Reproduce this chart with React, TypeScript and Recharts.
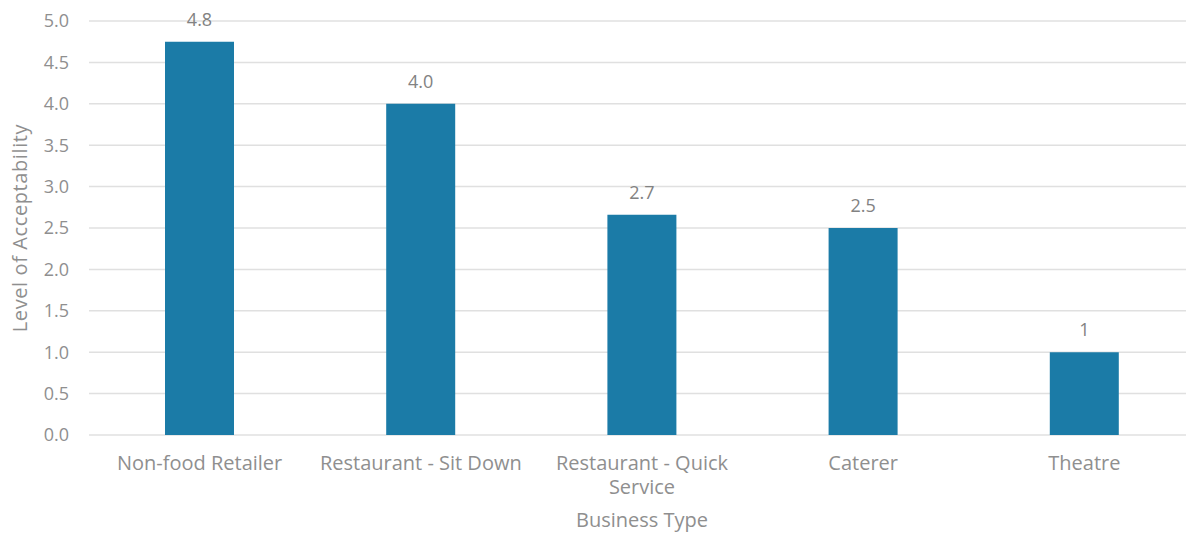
import { BarChart, Bar, XAxis, YAxis, CartesianGrid, LabelList } from 'recharts'

const businessTypes = ['Non-food Retailer', 'Restaurant - Sit Down', 'Restaurant - Quick Service', 'Caterer', 'Theatre']
const tickLines = [['Non-food Retailer'], ['Restaurant - Sit Down'], ['Restaurant - Quick', 'Service'], ['Caterer'], ['Theatre']]
const acceptability = [4.75, 4.0, 2.66, 2.5, 1.0]
const valueLabels = ['4.8', '4.0', '2.7', '2.5', '1']
const yTicks = [0, 0.5, 1.0, 1.5, 2.0, 2.5, 3.0, 3.5, 4.0, 4.5, 5.0]

const FONT = '"Open Sans", sans-serif'
const GREY = '#8f8f8f'

const rows = businessTypes.map((name, i) => ({ name, value: acceptability[i], label: valueLabels[i] }))

function CategoryTick(props: any) {
  const { x, y, payload } = props
  const lines = tickLines[businessTypes.indexOf(payload.value)] || [payload.value]
  return (
    <text x={x} y={y} textAnchor="middle" style={{ fontFamily: FONT, fontSize: 20, fill: GREY }}>
      {lines.map((l, i) => (
        <tspan key={i} x={x} dy={i === 0 ? 14 : 24}>{l}</tspan>
      ))}
    </text>
  )
}

export default function App() {
  return (
    <div style={{ position: 'fixed', left: 0, top: 0, width: 1186, height: 534, overflow: 'hidden', background: '#fff' }}>
      <BarChart width={1196} height={534} data={rows} margin={{ top: 21, right: 1, bottom: 0, left: 0 }} barSize={69}>
        <CartesianGrid vertical={false} stroke="#e0e0e0" strokeWidth={1.5} />
        <XAxis dataKey="name" height={99} axisLine={false} tickLine={false} tickSize={0} tickMargin={21}
          tick={<CategoryTick />} interval={0}
          label={{ value: 'Business Type', position: 'insideBottom', offset: 7, style: { fontFamily: FONT, fontSize: 20, fill: GREY } }} />
        <YAxis width={89} domain={[0, 5]} ticks={yTicks} axisLine={false} tickLine={false} tickSize={0} tickMargin={20}
          tickFormatter={(v: number) => v.toFixed(1)}
          tick={{ fontFamily: FONT, fontSize: 18, fill: GREY }}
          label={{ value: 'Level of Acceptability', angle: -90, position: 'insideLeft', offset: 20,
            style: { textAnchor: 'middle', fontFamily: FONT, fontSize: 20, fill: GREY, letterSpacing: 0.6 } }} />
        <Bar dataKey="value" fill="#1b7ba7" isAnimationActive={false}>
          <LabelList dataKey="label" position="top" offset={16}
            style={{ fontFamily: FONT, fontSize: 18, fill: '#828282' }} />
        </Bar>
      </BarChart>
    </div>
  )
}
